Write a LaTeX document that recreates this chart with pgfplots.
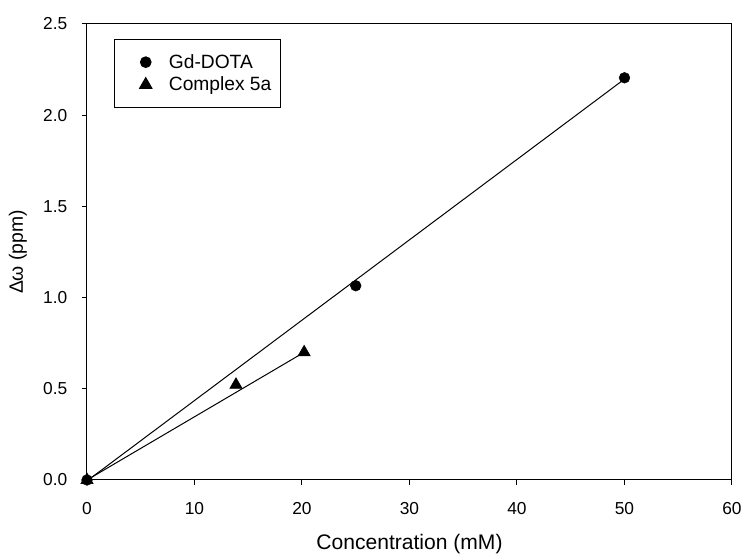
\documentclass[border=0pt]{standalone}
\usepackage{fontspec}
\setmainfont{Liberation Sans}
\usepackage{pgfplots}
\pgfplotsset{compat=1.18}
\begin{document}
\begin{tikzpicture}
\useasboundingbox (-65.25pt,-57pt) rectangle (492.75pt,360pt);
\begin{axis}[
  at={(0,0)}, anchor=south west, scale only axis,
  width=483.75pt, height=342pt,
  xmin=0, xmax=60, ymin=0, ymax=2.5,
  xtick={0,10,20,30,40,50,60},
  ytick={0,0.5,1,1.5,2,2.5},
  tick align=outside, xtick pos=bottom, ytick pos=left,
  major tick length=3.75pt,
  axis line style={line width=0.75pt},
  tick style={line width=0.75pt, black},
  /pgf/number format/assume math mode=true,
  yticklabel style={/pgf/number format/fixed, /pgf/number format/fixed zerofill, /pgf/number format/precision=1, xshift=-7.5pt},
  xticklabel style={yshift=-9.5pt},
  ticklabel style={font=\fontsize{13}{15}\selectfont},
  xlabel={Concentration (mM)},
  ylabel={Δω (ppm)},
  every axis x label/.style={at={([yshift=-48pt]axis description cs:0.5,0)}, anchor=center, font=\fontsize{15.8}{18}\selectfont},
  every axis y label/.style={at={([xshift=-51.75pt]axis description cs:0,0.5)}, anchor=center, rotate=90, font=\fontsize{14.5}{17}\selectfont},
  legend style={at={(0.042,0.967)}, anchor=north west, draw=black, line width=0.75pt,
    font=\fontsize{14.4}{17}\selectfont, inner xsep=5pt, inner ysep=9pt, row sep=1pt},
  legend cell align=left,
  legend image code/.code={\path (0pt,0pt) (33pt,0pt); \draw[#1] plot coordinates {(18pt,0pt)};},
]
\addplot[only marks, mark=*, mark size=4pt, black] coordinates {(0,0) (25,1.065) (50,2.205)};
\addlegendentry{Gd-DOTA}
\addplot[only marks, mark=triangle*, mark size=5.3pt, black] coordinates {(0,0) (13.86,0.522) (20.2,0.700)};
\addlegendentry{Complex 5a}
\addplot[forget plot, black, line width=0.75pt] coordinates {(0,-0.005) (50,2.198)};
\addplot[forget plot, black, line width=0.75pt] coordinates {(0,0) (20.2,0.700)};
\end{axis}
\end{tikzpicture}
\end{document}
